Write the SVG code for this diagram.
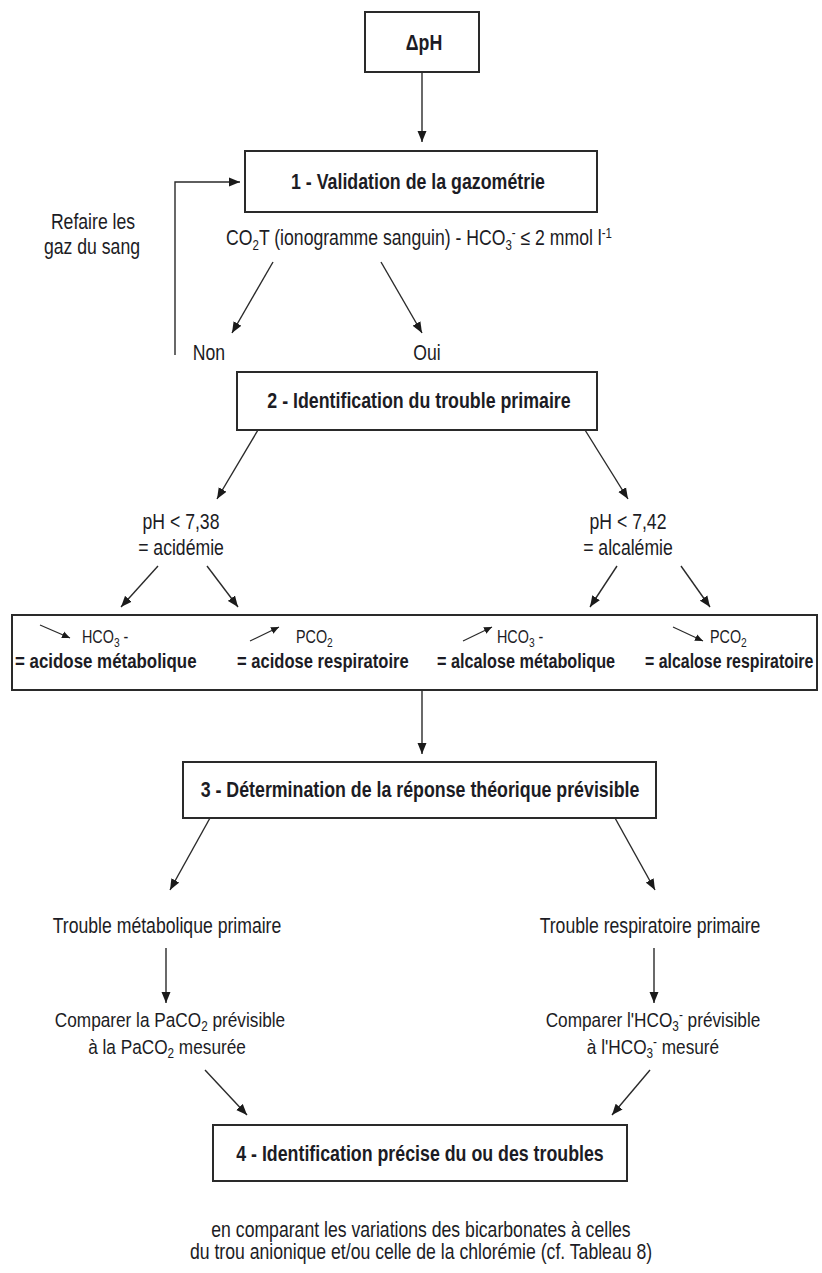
<svg xmlns="http://www.w3.org/2000/svg" width="822" height="1273" viewBox="0 0 822 1273">
<defs>
<marker id="ah" markerUnits="userSpaceOnUse" markerWidth="11" markerHeight="10" refX="11" refY="5" orient="auto">
<path d="M0,0.5 L11,5 L0,9.5 z" fill="#1a1a1a"/>
</marker>
<marker id="ahs" markerUnits="userSpaceOnUse" markerWidth="8" markerHeight="8" refX="8" refY="4" orient="auto">
<path d="M0,0.5 L8,4 L0,7.5 z" fill="#1a1a1a"/>
</marker>
<style>
.box{fill:#fff;stroke:#2a2a2a;stroke-width:2}
.ln{fill:none;stroke:#2a2a2a;stroke-width:1.4;marker-end:url(#ah)}
.sm{fill:none;stroke:#2a2a2a;stroke-width:1.2;marker-end:url(#ahs)}
text{font-family:"Liberation Sans",Arial,sans-serif;fill:#1c1c24}
.t{font-size:21.5px;text-anchor:middle}
.c{font-size:20.5px;text-anchor:middle}
.b{font-size:21.7px;font-weight:bold;text-anchor:middle}
.bl{font-weight:bold}
.r{font-size:17.5px}
.s{font-size:14px}
</style>
</defs>
<rect width="822" height="1273" fill="#fff"/>

<g id="connectors">
<line class="ln" x1="422" y1="72" x2="422" y2="142"/>
<polyline class="ln" points="175,355 175,182 240,182"/>
<line class="ln" x1="273" y1="262" x2="232" y2="333"/>
<line class="ln" x1="381" y1="262" x2="422" y2="333"/>
<line class="ln" x1="258" y1="430" x2="217" y2="499"/>
<line class="ln" x1="585" y1="430" x2="628" y2="499"/>
<line class="ln" x1="158" y1="566" x2="121" y2="607"/>
<line class="ln" x1="207" y1="566" x2="238" y2="607"/>
<line class="ln" x1="617" y1="566" x2="590" y2="607"/>
<line class="ln" x1="681" y1="566" x2="710" y2="607"/>
<line class="ln" x1="422" y1="690" x2="422" y2="754"/>
<line class="ln" x1="210" y1="818" x2="170" y2="890"/>
<line class="ln" x1="615" y1="818" x2="655" y2="890"/>
<line class="ln" x1="166" y1="948" x2="166" y2="1003"/>
<line class="ln" x1="654" y1="948" x2="654" y2="1003"/>
<line class="ln" x1="205" y1="1070" x2="247" y2="1115"/>
<line class="ln" x1="650" y1="1070" x2="612" y2="1115"/>
</g>

<g id="n-dph">
<rect class="box" x="365" y="12" width="114" height="60"/>
<text class="b" transform="translate(424,50) scale(0.82,1)">ΔpH</text>
</g>

<g id="n-1">
<rect class="box" x="245" y="151" width="352" height="61"/>
<text class="b" transform="translate(418,189) scale(0.82,1)">1 - Validation de la gazométrie</text>
</g>

<g id="n-co2t">
<text class="t" transform="translate(419,245) scale(0.82,1)">CO<tspan class="s" dy="5">2</tspan><tspan dy="-5">T (ionogramme sanguin) - HCO</tspan><tspan class="s" dy="5">3</tspan><tspan class="s" dy="-12">-</tspan><tspan dy="7"> ≤ 2 mmol l</tspan><tspan class="s" dy="-7">-1</tspan></text>
</g>

<g id="n-refaire">
<text class="t" transform="translate(93,229) scale(0.82,1)">Refaire les</text>
<text class="t" transform="translate(92,254) scale(0.82,1)">gaz du sang</text>
</g>

<g id="n-non"><text class="t" transform="translate(209,360) scale(0.82,1)">Non</text></g>
<g id="n-oui"><text class="t" transform="translate(427,360) scale(0.82,1)">Oui</text></g>

<g id="n-2">
<rect class="box" x="237" y="372" width="360" height="58"/>
<text class="b" transform="translate(419,408) scale(0.82,1)">2 - Identification du trouble primaire</text>
</g>

<g id="n-acid">
<text class="t" transform="translate(181,529) scale(0.82,1)">pH &lt; 7,38</text>
<text class="t" transform="translate(181,555) scale(0.82,1)">= acidémie</text>
</g>

<g id="n-alc">
<text class="t" transform="translate(628,529) scale(0.82,1)">pH &lt; 7,42</text>
<text class="t" transform="translate(628,555) scale(0.82,1)">= alcalémie</text>
</g>

<g id="n-types">
<rect class="box" x="12" y="615" width="805" height="75"/>
<line class="sm" x1="40" y1="625" x2="70" y2="638"/>
<text class="r" transform="translate(82,643) scale(0.82,1)">HCO<tspan font-size="12.5" dy="4">3</tspan><tspan dy="-4"> -</tspan></text>
<text class="bl" font-size="20.6" transform="translate(15,668) scale(0.82,1)">= acidose métabolique</text>
<line class="sm" x1="250" y1="641" x2="279" y2="627"/>
<text class="r" transform="translate(296,643) scale(0.82,1)">PCO<tspan font-size="12.5" dy="4">2</tspan></text>
<text class="bl" font-size="20.2" transform="translate(237,668) scale(0.82,1)">= acidose respiratoire</text>
<line class="sm" x1="463" y1="641" x2="492" y2="627"/>
<text class="r" transform="translate(497,643) scale(0.82,1)">HCO<tspan font-size="12.5" dy="4">3</tspan><tspan dy="-4"> -</tspan></text>
<text class="bl" font-size="19.8" transform="translate(437,668) scale(0.82,1)">= alcalose métabolique</text>
<line class="sm" x1="673" y1="627" x2="703" y2="641"/>
<text class="r" transform="translate(710,643) scale(0.82,1)">PCO<tspan font-size="12.5" dy="4">2</tspan></text>
<text class="bl" font-size="19.4" transform="translate(645,668) scale(0.82,1)">= alcalose respiratoire</text>
</g>

<g id="n-3">
<rect class="box" x="183" y="762" width="473" height="56"/>
<text class="b" transform="translate(420,797) scale(0.82,1)">3 - Détermination de la réponse théorique prévisible</text>
</g>

<g id="n-metab">
<text class="t" transform="translate(167,933) scale(0.82,1)">Trouble métabolique primaire</text>
</g>
<g id="n-resp">
<text class="t" transform="translate(650,933) scale(0.82,1)">Trouble respiratoire primaire</text>
</g>

<g id="n-cmp1">
<text class="c" transform="translate(170,1027) scale(0.84,1)">Comparer la PaCO<tspan class="s" dy="4">2</tspan><tspan dy="-4"> prévisible</tspan></text>
<text class="c" transform="translate(167,1054) scale(0.84,1)">à la PaCO<tspan class="s" dy="4">2</tspan><tspan dy="-4"> mesurée</tspan></text>
</g>
<g id="n-cmp2">
<text class="c" transform="translate(653,1027) scale(0.84,1)">Comparer l'HCO<tspan class="s" dy="4">3</tspan><tspan class="s" dy="-11">-</tspan><tspan dy="7"> prévisible</tspan></text>
<text class="c" transform="translate(653,1054) scale(0.84,1)">à l'HCO<tspan class="s" dy="4">3</tspan><tspan class="s" dy="-11">-</tspan><tspan dy="7"> mesuré</tspan></text>
</g>

<g id="n-4">
<rect class="box" x="213" y="1125" width="414" height="56"/>
<text class="b" transform="translate(420,1161) scale(0.82,1)">4 - Identification précise du ou des troubles</text>
</g>

<g id="n-note">
<text class="t" transform="translate(421,1237) scale(0.82,1)">en comparant les variations des bicarbonates à celles</text>
<text class="t" transform="translate(421,1259) scale(0.82,1)">du trou anionique et/ou celle de la chlorémie (cf. Tableau 8)</text>
</g>
</svg>
